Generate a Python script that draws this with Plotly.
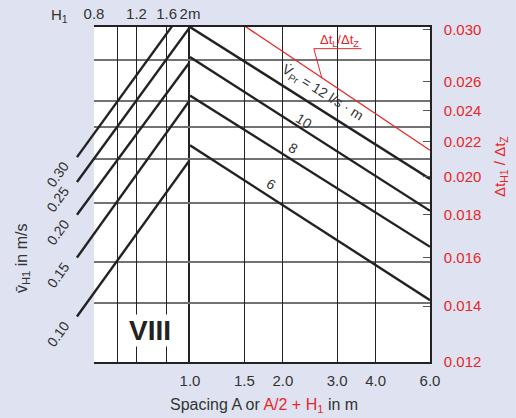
import numpy as np
import plotly.graph_objects as go

# ---------------- data ----------------
SPACING_TICKS = [1.0, 1.5, 2.0, 3.0, 4.0, 6.0]
SPACING_LABELS = ["1.0", "1.5", "2.0", "3.0", "4.0", "6.0"]
H1_TICKS = [0.8, 1.0, 1.2, 1.6, 2.0]
H1_LABELS = ["0.8", "", "1.2", "1.6", "2m"]
RATIO_TICKS = [0.030, 0.026, 0.024, 0.022, 0.020, 0.018, 0.016, 0.014, 0.012]
RATIO_LABELS = ["0.030", "0.026", "0.024", "0.022", "0.020", "0.018", "0.016", "0.014", "0.012"]
RATIO_GRID = [0.0276, 0.0246, 0.0229, 0.0210, 0.0186, 0.0158, 0.0141]

VELOCITY = ["0.30", "0.25", "0.20", "0.15", "0.10"]
VEL_H1 = [0.68, 2.0]
VEL_RATIO_LEFT = [0.0211, 0.0197, 0.0180, 0.0160, 0.0136]
VEL_RATIO_RIGHT = [0.0324, 0.0302, 0.02745, 0.0247, 0.02095]

FLOW = [12, 10, 8, 6]
FLOW_A = [1.0, 6.0]
FLOW_RATIO_START = [0.0302, 0.0278, 0.0250, 0.0218]
FLOW_RATIO_END = [0.01987, 0.0182, 0.01648, 0.01423]
FLOW_LABEL_A = [2.695, 2.339, 2.155, 1.828]

LOSS_A = [1.5, 6.0]
LOSS_RATIO = [0.0303, 0.0215]
LEADER_A = [3.60, 2.52, 2.675]
LEADER_RATIO = [0.02845, 0.02845, 0.02625]

# ---------------- layout constants ----------------
W, H = 516, 418
PX_EXT, PX_LEFT, PX_MID, PX_RIGHT = 76, 94, 190, 430
PX_TOP, PX_BOT = 27, 362
RED = "#e8262a"
INK = "#222222"
TXT = "#333333"
BG = "#dfe3f1"
FONT = "Arial, Liberation Sans, sans-serif"


def fx(p):
    return p / W


def fy(p):
    return 1 - p / H


lg = np.log10
x_range = [lg(SPACING_TICKS[0]), lg(SPACING_TICKS[-1])]
x2_range = [lg(H1_TICKS[0]), lg(H1_TICKS[-1])]
x3_lo = x2_range[1] - (x2_range[1] - x2_range[0]) * (PX_MID - PX_EXT) / (PX_MID - PX_LEFT)
x3_range = [x3_lo, x2_range[1]]
y_range = [lg(0.012), lg(0.0302)]
y_dom = [fy(PX_BOT), fy(PX_TOP)]


def on_line(a, a0, r0, a1, r1):
    t = (lg(a) - lg(a0)) / (lg(a1) - lg(a0))
    return lg(r0) + t * (lg(r1) - lg(r0))


fig = go.Figure()

# velocity lines (left nomogram part)
for i, v in enumerate(VELOCITY):
    fig.add_trace(go.Scatter(
        x=VEL_H1, y=[VEL_RATIO_LEFT[i], VEL_RATIO_RIGHT[i]],
        xaxis="x3", yaxis="y3", mode="lines",
        line=dict(color=INK, width=2.4), showlegend=False, hoverinfo="skip"))

# flow lines (right part)
for i, q in enumerate(FLOW):
    fig.add_trace(go.Scatter(
        x=FLOW_A, y=[FLOW_RATIO_START[i], FLOW_RATIO_END[i]],
        xaxis="x", yaxis="y", mode="lines",
        line=dict(color=INK, width=2.4), showlegend=False, hoverinfo="skip"))

# red loss ratio line and its leader
fig.add_trace(go.Scatter(x=LOSS_A, y=LOSS_RATIO, xaxis="x", yaxis="y", mode="lines",
                         line=dict(color=RED, width=1.3), showlegend=False, hoverinfo="skip"))
fig.add_trace(go.Scatter(x=LEADER_A, y=LEADER_RATIO, xaxis="x", yaxis="y", mode="lines",
                         line=dict(color=RED, width=1.0), showlegend=False, hoverinfo="skip"))

grid_minor = dict(tickmode="array", tickvals=RATIO_GRID, showgrid=True,
                  gridcolor="#727272", gridwidth=2, ticks="")
axis_line = dict(showline=True, linecolor=INK, linewidth=1.6, mirror=True, zeroline=False,
                 automargin=False)


def paper_text(text, px, py, size, color=TXT, angle=0):
    return dict(text=text, xref="paper", yref="paper", x=fx(px), y=fy(py),
                xanchor="center", yanchor="middle", textangle=angle, showarrow=False,
                font=dict(size=size, color=color))


annotations = []
# top-left H1 label
annotations.append(paper_text("H<sub>1</sub>", 59, 15, 15))
# velocity labels
for i, v in enumerate(VELOCITY):
    annotations.append(dict(text=v, xref="x3", yref="y3", x=lg(VEL_H1[0]), y=lg(VEL_RATIO_LEFT[i]),
                            xshift=-19, yshift=-17, textangle=-54, showarrow=False,
                            font=dict(size=14, color=TXT)))
# flow labels
flow_texts = ["V\u0307<sub>Pr</sub> = 12 l/s \u00b7 m", "10", "8", "6"]
flow_shift = [18, 9, 12, 13]
for i, q in enumerate(FLOW):
    annotations.append(dict(text=flow_texts[i], xref="x", yref="y", x=lg(FLOW_LABEL_A[i]),
                            y=on_line(FLOW_LABEL_A[i], FLOW_A[0], FLOW_RATIO_START[i],
                                      FLOW_A[1], FLOW_RATIO_END[i]),
                            yshift=flow_shift[i], textangle=32, showarrow=False,
                            font=dict(size=14, color=TXT)))
# red label
annotations.append(dict(text="\u0394t<sub>L</sub>/\u0394t<sub>Z</sub>", xref="x", yref="y",
                        x=lg((LEADER_A[0] + LEADER_A[1]) / 2), y=lg(LEADER_RATIO[0]),
                        yshift=8, showarrow=False, font=dict(size=13, color=RED)))
# VIII
annotations.append(dict(text="<b>VIII</b>", xref="x2", yref="y", x=lg(1.365), y=lg(0.0131),
                        showarrow=False, bgcolor="white", borderpad=0,
                        font=dict(size=28, color=INK)))
# axis titles
annotations.append(paper_text("v\u0304<sub>H1</sub> in m/s", 22, 259, 16, angle=-90))
annotations.append(paper_text("\u0394t<sub>H1</sub> / \u0394t<sub>Z</sub>", 500, 167, 15,
                              color=RED, angle=-90))
annotations.append(paper_text(
    "Spacing A or <span style='color:%s'>A/2 + H<sub>1</sub></span> in m" % RED, 264, 405, 16))

fig.update_layout(
    width=W, height=H, autosize=False,
    margin=dict(l=0, r=0, t=0, b=0, pad=0, autoexpand=False),
    paper_bgcolor=BG, plot_bgcolor="rgba(0,0,0,0)",
    font=dict(family=FONT, color=TXT),
    showlegend=False,
    xaxis=dict(type="log", range=x_range, domain=[fx(PX_MID), fx(PX_RIGHT)], anchor="y",
               tickmode="array", tickvals=SPACING_TICKS, ticktext=SPACING_LABELS, ticks="",
               tickangle=0, showgrid=True, gridcolor=INK, gridwidth=1.3,
               tickfont=dict(size=15, color=TXT), ticklabelstandoff=4, **axis_line),
    xaxis2=dict(type="log", range=x2_range, domain=[fx(PX_LEFT), fx(PX_MID)], anchor="y2",
                side="top", tickmode="array", tickvals=H1_TICKS, ticktext=H1_LABELS, ticks="",
                tickangle=0, showgrid=True, gridcolor=INK, gridwidth=1.3,
                tickfont=dict(size=15, color=TXT), ticklabelstandoff=0, **axis_line),
    xaxis3=dict(type="log", range=x3_range, domain=[fx(PX_EXT), fx(PX_MID)], anchor="y3",
                visible=False, automargin=False),
    yaxis=dict(type="log", range=y_range, domain=y_dom, anchor="x", side="right",
               tickmode="array", tickvals=RATIO_TICKS, ticktext=RATIO_LABELS,
               ticks="inside", ticklen=7, tickcolor="#555555", tickwidth=1.2,
               showgrid=False, minor=grid_minor,
               tickfont=dict(size=15, color=RED), ticklabelstandoff=9, **axis_line),
    yaxis2=dict(type="log", range=y_range, domain=y_dom, anchor="x2", side="left",
                showticklabels=False, ticks="", showgrid=False, minor=grid_minor, **axis_line),
    yaxis3=dict(type="log", range=y_range, domain=y_dom, anchor="x3", visible=False,
                automargin=False),
    shapes=[dict(type="rect", xref="paper", yref="paper", layer="below",
                 x0=fx(PX_LEFT), x1=fx(PX_RIGHT), y0=y_dom[0], y1=y_dom[1],
                 fillcolor="white", line=dict(width=0))],
    annotations=annotations,
)

fig.write_html("out.html", config={"displayModeBar": False},
               post_script="document.body.style.margin='0';document.body.style.background='%s';" % BG)
